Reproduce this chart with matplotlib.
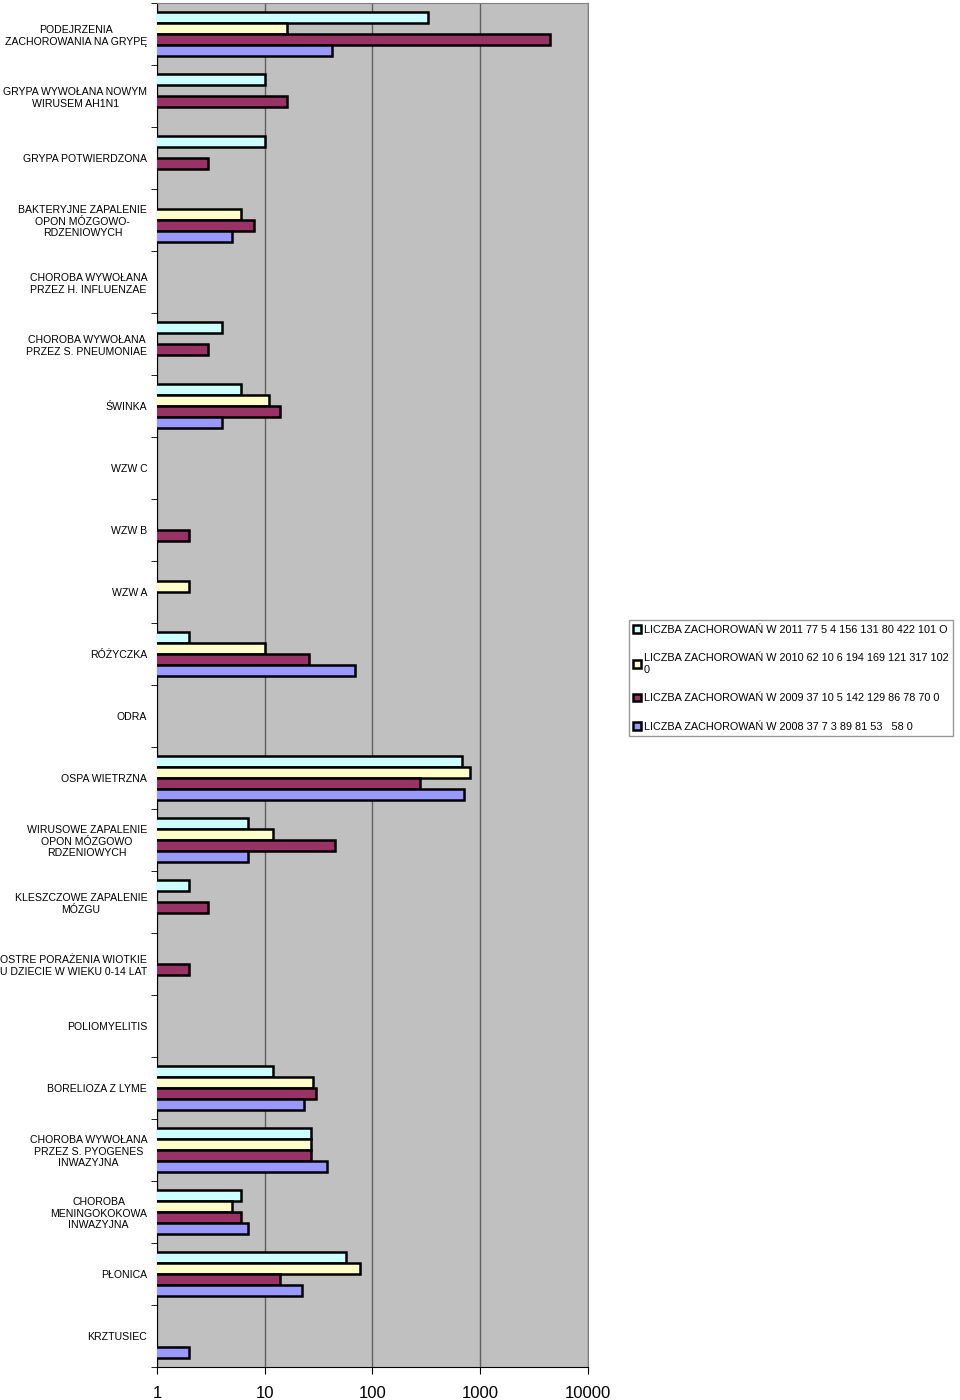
import numpy as np
import matplotlib.pyplot as plt
from matplotlib.patches import Patch

plt.rcParams['font.family'] = ['Liberation Sans', 'DejaVu Sans']

categories = [
    "PODEJRZENIA\nZACHOROWANIA NA GRYPĘ",
    "GRYPA WYWOŁANA NOWYM\nWIRUSEM AH1N1",
    "GRYPA POTWIERDZONA",
    "BAKTERYJNE ZAPALENIE\nOPON MÓZGOWO-\nRDZENIOWYCH",
    "CHOROBA WYWOŁANA\nPRZEZ H. INFLUENZAE",
    "CHOROBA WYWOŁANA\nPRZEZ S. PNEUMONIAE",
    "ŚWINKA",
    "WZW C",
    "WZW B",
    "WZW A",
    "RÓŻYCZKA",
    "ODRA",
    "OSPA WIETRZNA",
    "WIRUSOWE ZAPALENIE\nOPON MÓZGOWO\nRDZENIOWYCH",
    "KLESZCZOWE ZAPALENIE\nMÓZGU",
    "OSTRE PORAŻENIA WIOTKIE\nU DZIECIE W WIEKU 0-14 LAT",
    "POLIOMYELITIS",
    "BORELIOZA Z LYME",
    "CHOROBA WYWOŁANA\nPRZEZ S. PYOGENES\nINWAZYJNA",
    "CHOROBA\nMENINGOKOKOWA\nINWAZYJNA",
    "PŁONICA",
    "KRZTUSIEC",
]

nan = np.nan
# values, nan = no bar
v2011 = [327, 10, 10, nan, nan, 4, 6, nan, nan, nan, 2, nan, 671, 7, 2, nan, nan, 12, 27, 6, 57, nan]
v2010 = [16, nan, nan, 6, nan, nan, 11, nan, nan, 2, 10, nan, 809, 12, nan, nan, nan, 28, 27, 5, 77, nan]
v2009 = [4400, 16, 3, 8, nan, 3, 14, nan, 2, nan, 26, nan, 274, 45, 3, 2, nan, 30, 27, 6, 14, nan]
v2008 = [42, nan, nan, 5, nan, nan, 4, nan, nan, nan, 69, nan, 703, 7, nan, nan, nan, 23, 38, 7, 22, 2]

labels = [
    "LICZBA ZACHOROWAŃ W 2011 77 5 4 156 131 80 422 101 O",
    "LICZBA ZACHOROWAŃ W 2010 62 10 6 194 169 121 317 102\n0",
    "LICZBA ZACHOROWAŃ W 2009 37 10 5 142 129 86 78 70 0",
    "LICZBA ZACHOROWAŃ W 2008 37 7 3 89 81 53   58 0",
]
colors = ['#CCFFFF', '#FFFFCC', '#993366', '#9999FF']

fig = plt.figure(figsize=(9.6, 14), dpi=100)
ax = fig.add_axes([0.1635, 0.0236, 0.449, 0.9743])
ax.set_facecolor('#C0C0C0')

y = np.arange(len(categories))
h = 0.18
offsets = [-0.27, -0.09, 0.09, 0.27]
series = [v2011, v2010, v2009, v2008]
for vals, off, c in zip(series, offsets, colors):
    ax.barh(y + off, np.array(vals, dtype=float), height=h, color=c,
            edgecolor='black', linewidth=1.8, zorder=3)

ax.set_xscale('log')
ax.set_xlim(1, 10000)
ax.set_ylim(len(categories) - 0.5, -0.5)
ax.set_xticks([1, 10, 100, 1000, 10000])
ax.set_xticklabels(['1', '10', '100', '1000', '10000'], fontsize=12)
ax.xaxis.set_minor_locator(plt.NullLocator())
ax.grid(axis='x', color='#606060', linewidth=1, zorder=1)
ax.tick_params(axis='x', length=5, color='black', pad=9)

ax.set_yticks(y)
ax.set_yticklabels(categories, fontsize=7.6)
for t in ax.get_yticklabels():
    t.set_multialignment('center')
ax.tick_params(axis='y', which='major', length=0, pad=7)
ax.set_yticks(np.arange(len(categories) + 1) - 0.5, minor=True)
ax.tick_params(axis='y', which='minor', length=4, color='black')

ax.spines['left'].set_color('black')
ax.spines['bottom'].set_color('black')
ax.spines['top'].set_color('#808080')
ax.spines['right'].set_color('#808080')

handles = [Patch(facecolor=c, edgecolor='black', linewidth=1.8) for c in colors]
leg = fig.legend(handles, labels, loc='upper left', bbox_to_anchor=(0.655, 0.557),
                 borderaxespad=0, fontsize=7.85, frameon=True, fancybox=False,
                 edgecolor='#808080', handlelength=0.7, handleheight=0.7,
                 handletextpad=0.3, labelspacing=1.7, borderpad=0.4)
leg.get_frame().set_linewidth(1)

fig.savefig('out.png', dpi=100)
